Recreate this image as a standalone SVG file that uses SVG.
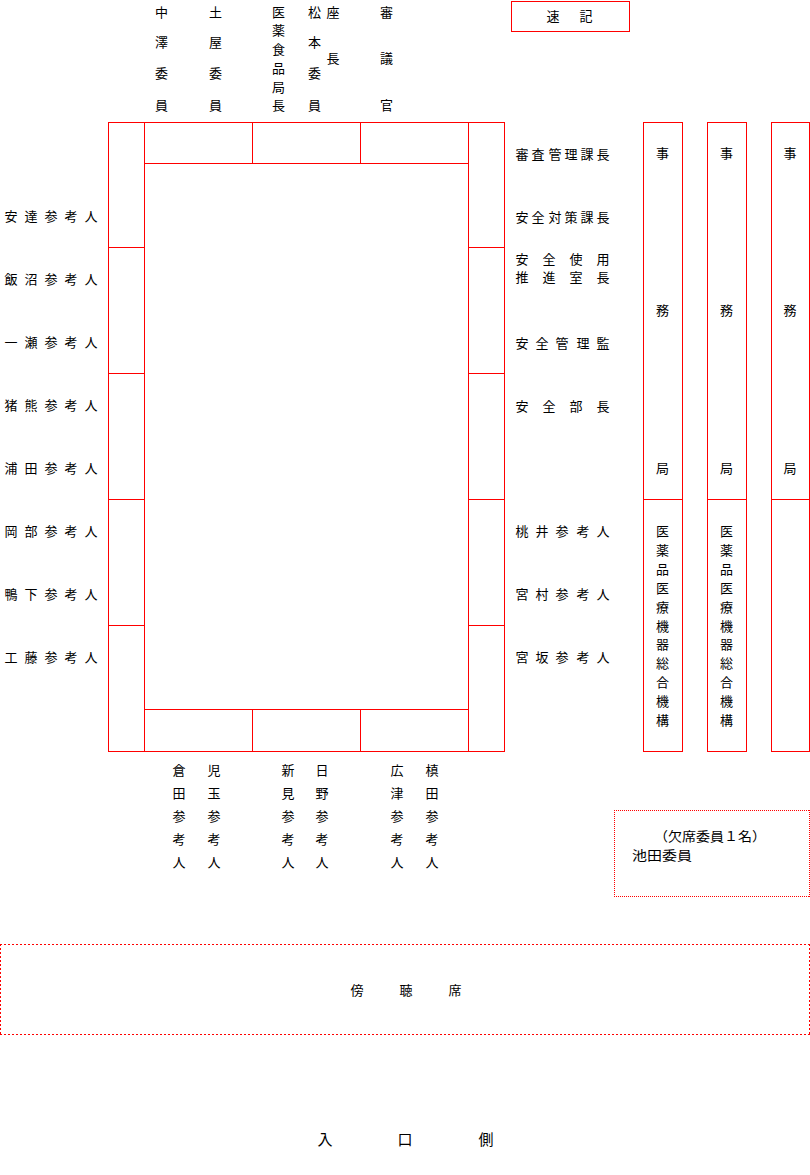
<svg xmlns="http://www.w3.org/2000/svg" width="810" height="1175" viewBox="0 0 810 1175">
<style>
.ln{stroke:#ff0000;stroke-width:1;fill:none}
.dot{stroke:#ff0000;stroke-width:1;fill:none;stroke-dasharray:1,1}
.dash{stroke:#ff0000;stroke-width:1;fill:none;stroke-dasharray:2,2}
text{font-family:"Noto Sans CJK JP","Noto Sans CJK SC",sans-serif;font-size:13px;fill:#000;text-anchor:middle}
.big{font-size:15px}
</style>
<rect width="810" height="1175" fill="#fff"/>
<g id="table">
<rect class="ln" x="108.5" y="122.5" width="396" height="629"/>
<path class="ln" d="M144.5 122.5V751.5M468.5 122.5V751.5M144.5 163.5H468.5M144.5 709.5H468.5M252.5 122.5V163.5M360.5 122.5V163.5M252.5 709.5V751.5M360.5 709.5V751.5M108.5 247.5H144.5M108.5 373.5H144.5M108.5 499.5H144.5M108.5 625.5H144.5M468.5 247.5H504.5M468.5 373.5H504.5M468.5 499.5H504.5M468.5 625.5H504.5"/>
</g>
<g id="sokki">
<rect class="ln" x="511.5" y="1.5" width="118" height="30"/>
<text x="553 586" y="21">速記</text>
</g>
<g id="top-labels">
<g id="nakazawa"><text x="161.5" y="17">中</text><text x="161.5" y="47">澤</text><text x="161.5" y="78">委</text><text x="161.5" y="110">員</text></g>
<g id="tsuchiya"><text x="215.5" y="17">土</text><text x="215.5" y="47">屋</text><text x="215.5" y="78">委</text><text x="215.5" y="110">員</text></g>
<g id="iyakushokuhin"><text x="278.5" y="17">医</text><text x="278.5" y="35">薬</text><text x="278.5" y="54">食</text><text x="278.5" y="73">品</text><text x="278.5" y="92">局</text><text x="278.5" y="110">長</text></g>
<g id="matsumoto"><text x="314.5" y="17">松</text><text x="314.5" y="47">本</text><text x="314.5" y="78">委</text><text x="314.5" y="110">員</text></g>
<g id="zacho"><text x="333" y="17">座</text><text x="333" y="63">長</text></g>
<g id="shingikan"><text x="386.5" y="17">審</text><text x="386.5" y="63">議</text><text x="386.5" y="110">官</text></g>
</g>
<g id="left-labels">
<g id="adachi"><text x="11 31 51 71 91" y="221">安達参考人</text></g>
<g id="iinuma"><text x="11 31 51 71 91" y="284">飯沼参考人</text></g>
<g id="ichinose"><text x="11 31 51 71 91" y="347">一瀬参考人</text></g>
<g id="inokuma"><text x="11 31 51 71 91" y="410">猪熊参考人</text></g>
<g id="urata"><text x="11 31 51 71 91" y="473">浦田参考人</text></g>
<g id="okabe"><text x="11 31 51 71 91" y="536">岡部参考人</text></g>
<g id="kamoshita"><text x="11 31 51 71 91" y="599">鴨下参考人</text></g>
<g id="kudo"><text x="11 31 51 71 91" y="662">工藤参考人</text></g>
</g>
<g id="right-labels">
<g id="shinsakanri"><text x="522 538 555 571 587 603" y="159">審査管理課長</text></g>
<g id="anzentaisaku"><text x="522 538 555 571 587 603" y="222">安全対策課長</text></g>
<g id="anzenshiyo"><text x="522 549 576 603" y="264">安全使用</text><text x="522 549 576 603" y="282">推進室長</text></g>
<g id="anzenkanrikan"><text x="522 542 562 583 603" y="348">安全管理監</text></g>
<g id="anzenbucho"><text x="522 549 576 603" y="411">安全部長</text></g>
<g id="momoi"><text x="522 542 562 583 603" y="536">桃井参考人</text></g>
<g id="miyamura"><text x="522 542 562 583 603" y="599">宮村参考人</text></g>
<g id="miyasaka"><text x="522 542 562 583 603" y="662">宮坂参考人</text></g>
</g>
<g id="jimukyoku">
<g id="jimu1"><rect class="ln" x="643.5" y="122.5" width="39" height="629"/><path class="ln" d="M643.5 499.5H682.5"/><text x="662.5" y="158">事</text><text x="662.5" y="315">務</text><text x="662.5" y="473">局</text></g>
<g id="jimu2"><rect class="ln" x="707.5" y="122.5" width="39" height="629"/><path class="ln" d="M707.5 499.5H746.5"/><text x="726.5" y="158">事</text><text x="726.5" y="315">務</text><text x="726.5" y="473">局</text></g>
<g id="jimu3"><rect class="ln" x="771.5" y="122.5" width="38" height="629"/><path class="ln" d="M771.5 499.5H809.5"/><text x="790" y="158">事</text><text x="790" y="315">務</text><text x="790" y="473">局</text></g>
<g id="pmda1"><text x="662.5" y="536">医</text><text x="662.5" y="555">薬</text><text x="662.5" y="574">品</text><text x="662.5" y="593">医</text><text x="662.5" y="612">療</text><text x="662.5" y="631">機</text><text x="662.5" y="649">器</text><text x="662.5" y="668">総</text><text x="662.5" y="687">合</text><text x="662.5" y="706">機</text><text x="662.5" y="725">構</text></g>
<g id="pmda2"><text x="726.5" y="536">医</text><text x="726.5" y="555">薬</text><text x="726.5" y="574">品</text><text x="726.5" y="593">医</text><text x="726.5" y="612">療</text><text x="726.5" y="631">機</text><text x="726.5" y="649">器</text><text x="726.5" y="668">総</text><text x="726.5" y="687">合</text><text x="726.5" y="706">機</text><text x="726.5" y="725">構</text></g>
</g>
<g id="bottom-labels">
<g id="kurata"><text x="179" y="775">倉</text><text x="179" y="798">田</text><text x="179" y="821">参</text><text x="179" y="844">考</text><text x="179" y="867">人</text></g>
<g id="kodama"><text x="214" y="775">児</text><text x="214" y="798">玉</text><text x="214" y="821">参</text><text x="214" y="844">考</text><text x="214" y="867">人</text></g>
<g id="niimi"><text x="288" y="775">新</text><text x="288" y="798">見</text><text x="288" y="821">参</text><text x="288" y="844">考</text><text x="288" y="867">人</text></g>
<g id="hino"><text x="322" y="775">日</text><text x="322" y="798">野</text><text x="322" y="821">参</text><text x="322" y="844">考</text><text x="322" y="867">人</text></g>
<g id="hirotsu"><text x="397" y="775">広</text><text x="397" y="798">津</text><text x="397" y="821">参</text><text x="397" y="844">考</text><text x="397" y="867">人</text></g>
<g id="makita"><text x="432" y="775">槙</text><text x="432" y="798">田</text><text x="432" y="821">参</text><text x="432" y="844">考</text><text x="432" y="867">人</text></g>
</g>
<g id="absent">
<line class="dot" x1="614" y1="810.5" x2="810" y2="810.5"/>
<line class="dot" x1="614" y1="896.5" x2="810" y2="896.5"/>
<line class="dot" x1="614.5" y1="810" x2="614.5" y2="897"/>
<line class="dot" x1="809.5" y1="810" x2="809.5" y2="897"/>
<text x="710" y="841" textLength="112" lengthAdjust="spacingAndGlyphs">（欠席委員１名）</text>
<text x="662" y="860" textLength="60" lengthAdjust="spacingAndGlyphs">池田委員</text>
</g>
<g id="bochoseki">
<line class="dash" x1="0" y1="944.5" x2="810" y2="944.5"/>
<line class="dash" x1="0" y1="1034.5" x2="810" y2="1034.5"/>
<line class="dash" x1="0.5" y1="944" x2="0.5" y2="1035"/>
<line class="dash" x1="809.5" y1="944" x2="809.5" y2="1035"/>
<text x="357 406 455" y="995">傍聴席</text>
</g>
<g id="entrance">
<text class="big" x="325 405 486" y="1145">入口側</text>
</g>
</svg>
